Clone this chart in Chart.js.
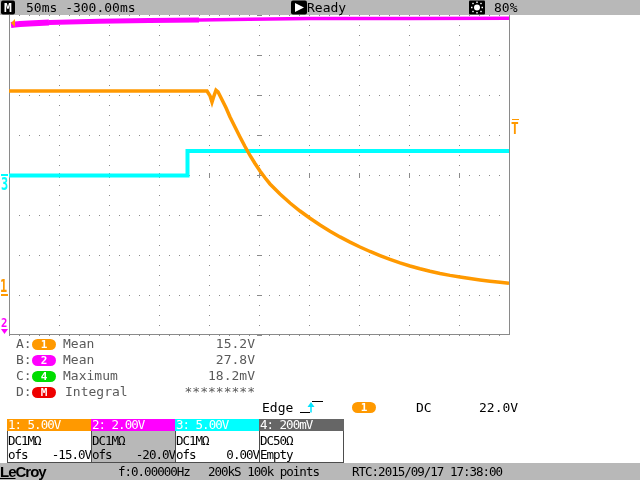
<!DOCTYPE html>
<html>
<head>
<meta charset="utf-8">
<title>LeCroy capture</title>
<script src="https://cdn.jsdelivr.net/npm/chart.js@4.4.1/dist/chart.umd.min.js"></script>
<style>
    html, body { margin: 0; padding: 0; background: #fff; }
    #scope { position: relative; width: 640px; height: 480px; overflow: hidden; }
    #scope canvas { position: absolute; left: 0; top: 0; }
    #shapes { position: absolute; left: 0; top: 0; }
    .bar { position: absolute; left: 0; width: 640px; background: #b8b8b8; }
    .t { position: absolute; font-family: "DejaVu Sans Mono", monospace; font-size: 13px; line-height: 15px; white-space: pre; color: #000; }
    .n { font-size: 12.5px; line-height: 13px; letter-spacing: -1px; }
    .meas { color: #5a5a5a; }
    .val { text-align: right; right: 385px; }
    .pill { position: absolute; width: 24px; height: 11px; border-radius: 6px; color: #fff; text-align: center;
            font-family: "DejaVu Sans Mono", monospace; font-weight: bold; font-size: 11px; line-height: 11px; }
    .mark { position: absolute; font-family: "DejaVu Sans Mono", monospace; font-weight: bold; transform-origin: left top; }
    .ch { position: absolute; top: 419px; width: 85px; height: 44px; box-sizing: border-box;
          border: 1px solid #4d4d4d; border-top: none; background: #fff; }
    .ch .hdr { position: absolute; left: -1px; right: -1px; top: 0; height: 12px; }
    .ch .t { left: 0; }
</style>
</head>
<body>
<div id="scope">
    <canvas id="scopeChart" width="640" height="480"></canvas>

    <!-- channel markers, trigger slope icon -->
    <svg id="shapes" width="640" height="480">
        <polygon points="11,23 15,19 15,27" fill="#ff9900"/>
        <rect x="1" y="174" width="7" height="2" fill="#00ffff"/>
        <rect x="1" y="294" width="7" height="2" fill="#ff9900"/>
        <polygon points="1,329 8,329 4.5,334" fill="#ff00ff"/>
        <rect x="512" y="119" width="7" height="1" fill="#ff9900"/>
        <g stroke="#000" stroke-width="1">
            <line x1="300" y1="412.5" x2="310" y2="412.5"/>
            <line x1="312" y1="401.5" x2="323" y2="401.5"/>
        </g>
        <line x1="311" y1="412.5" x2="311" y2="405" stroke="#00e5ff" stroke-width="1.5"/>
        <polygon points="307.5,407 311,402 314.5,407" fill="#00e5ff"/>
    </svg>

    <div class="bar" style="top:0;height:15px"></div>
    <div class="bar" style="top:463px;height:17px"></div>
    <svg style="position:absolute;left:0;top:0" width="640" height="16">
        <rect x="1" y="0.5" width="14" height="14" rx="2" fill="#000"/>
        <rect x="291" y="0.5" width="16" height="14" rx="2" fill="#000"/>
        <polygon points="295,3 304,7.5 295,12" fill="#fff"/>
        <rect x="469" y="0.5" width="16" height="14" rx="1" fill="#000"/>
        <circle cx="477" cy="7.5" r="3" fill="#fff"/>
        <g stroke="#fff" stroke-width="1.4">
            <line x1="477" y1="1.5" x2="477" y2="3"/><line x1="477" y1="12" x2="477" y2="13.5"/>
            <line x1="471" y1="7.5" x2="472.5" y2="7.5"/><line x1="481.5" y1="7.5" x2="483" y2="7.5"/>
            <line x1="472.5" y1="3" x2="473.5" y2="4"/><line x1="480.5" y1="11" x2="481.5" y2="12"/>
            <line x1="481.5" y1="3" x2="480.5" y2="4"/><line x1="473.5" y1="11" x2="472.5" y2="12"/>
        </g>
    </svg>

    <!-- top status line -->
    <div class="t" style="left:2px;top:0;color:#fff;font-weight:bold;width:12px;text-align:center">M</div>
    <div class="t" style="left:26px;top:0">50ms -300.00ms</div>
    <div class="t" style="left:307px;top:0">Ready</div>
    <div class="t" style="left:494px;top:0">80%</div>

    <!-- channel markers beside the grid -->
    <div class="mark" style="left:1px;top:176px;font-size:17px;line-height:17px;color:#00ffff;transform:scaleX(0.7)">3</div>
    <div class="mark" style="left:0px;top:278px;font-size:17px;line-height:17px;color:#ff9900;transform:scaleX(0.7)">1</div>
    <div class="mark" style="left:1px;top:316px;font-size:12.5px;line-height:13px;color:#ff00ff;transform:scaleX(0.85)">2</div>
    <div class="mark" style="left:511px;top:122px;font-size:15px;line-height:15px;color:#ff9900;transform:scaleX(0.85)">T</div>

    <!-- measurements -->
    <div class="t meas" style="left:16px;top:336px">A:</div>
    <div class="pill" style="left:32px;top:339px;background:#ff9900">1</div>
    <div class="t meas" style="left:63px;top:336px">Mean</div>
    <div class="t meas val" style="top:336px">15.2V</div>

    <div class="t meas" style="left:16px;top:352px">B:</div>
    <div class="pill" style="left:32px;top:355px;background:#ff00ff">2</div>
    <div class="t meas" style="left:63px;top:352px">Mean</div>
    <div class="t meas val" style="top:352px">27.8V</div>

    <div class="t meas" style="left:16px;top:368px">C:</div>
    <div class="pill" style="left:32px;top:371px;background:#00dd00">4</div>
    <div class="t meas" style="left:63px;top:368px">Maximum</div>
    <div class="t meas val" style="top:368px">18.2mV</div>

    <div class="t meas" style="left:16px;top:384px">D:</div>
    <div class="pill" style="left:32px;top:387px;background:#ee0000">M</div>
    <div class="t meas" style="left:65px;top:384px">Integral</div>
    <div class="t meas val" style="top:384px">*********</div>

    <!-- trigger line -->
    <div class="t" style="left:262px;top:399.5px">Edge</div>
    <div class="pill" style="left:352px;top:402px;background:#ff9900">1</div>
    <div class="t" style="left:416px;top:399.5px">DC</div>
    <div class="t" style="left:479px;top:399.5px">22.0V</div>

    <!-- channel boxes -->
    <div class="ch" style="left:7px">
        <div class="hdr" style="background:#ff9900"></div>
        <div class="t n" style="top:-0.7px;color:#fff">1: 5.00V</div>
        <div class="t n" style="top:14.6px">DC1MΩ</div>
        <div class="t n" style="top:29.3px">ofs</div>
        <div class="t n" style="top:29.3px;left:auto;right:0;text-align:right">-15.0V</div>
    </div>
    <div class="ch" style="left:91px;background:#b8b8b8">
        <div class="hdr" style="background:#ff00ff"></div>
        <div class="t n" style="top:-0.7px;color:#fff">2: 2.00V</div>
        <div class="t n" style="top:14.6px">DC1MΩ</div>
        <div class="t n" style="top:29.3px">ofs</div>
        <div class="t n" style="top:29.3px;left:auto;right:0;text-align:right">-20.0V</div>
    </div>
    <div class="ch" style="left:175px">
        <div class="hdr" style="background:#00ffff"></div>
        <div class="t n" style="top:-0.7px;color:#fff">3: 5.00V</div>
        <div class="t n" style="top:14.6px">DC1MΩ</div>
        <div class="t n" style="top:29.3px">ofs</div>
        <div class="t n" style="top:29.3px;left:auto;right:0;text-align:right">0.00V</div>
    </div>
    <div class="ch" style="left:259px">
        <div class="hdr" style="background:#666666"></div>
        <div class="t n" style="top:-0.7px;color:#fff">4: 200mV</div>
        <div class="t n" style="top:14.6px">DC50Ω</div>
        <div class="t n" style="top:29.3px">Empty</div>
    </div>

    <!-- bottom status line -->
    <div class="t" style="left:0;top:464px;font-family:'Liberation Sans',sans-serif;font-weight:bold;font-size:15px;letter-spacing:-1px"><span style="text-decoration:underline">Le</span>Croy</div>
    <div class="t n" style="left:118px;top:465.3px">f:0.00000Hz</div>
    <div class="t n" style="left:208px;top:465.3px">200kS 100k points</div>
    <div class="t n" style="left:352px;top:465.3px">RTC:2015/09/17 17:38:00</div>
</div>

<script>
// Time across the screen, ms from the left edge (50 ms/div, 10 div)
// Channel 1 (orange), volts
const ch1Time = [0, 198, 201, 203, 205, 207, 209, 213, 217, 221, 226, 231, 236, 241, 246, 251, 256, 261, 271, 281,
                 291, 301, 311, 321, 331, 341, 351, 361, 371, 381, 391, 401, 411, 421, 431, 441, 451, 461, 471, 481,
                 491, 500];
const ch1Volts = [25.5, 25.5, 24.9, 24.1, 24.9, 25.6, 25.4, 24.4, 23.4, 22.25, 21.0, 19.75, 18.56, 17.44, 16.44, 15.5, 14.65, 13.88, 12.63, 11.5,
                  10.5, 9.59, 8.75, 7.98, 7.26, 6.61, 6.0, 5.44, 4.93, 4.45, 4.01, 3.63, 3.28, 2.96, 2.69, 2.45, 2.24, 2.05, 1.88, 1.73,
                  1.59, 1.46];

// Channel 2 (magenta), volts
const ch2Time = [2, 6, 11, 20, 40, 60, 90, 140, 190, 240, 300, 400, 500];
const ch2Volts = [27.50, 27.52, 27.55, 27.58, 27.62, 27.65, 27.69, 27.72, 27.75, 27.79, 27.82, 27.83, 27.84];

// Channel 3 (cyan), volts
const ch3Time = [0, 178.5, 178.5, 500];
const ch3Volts = [-0.05, -0.05, 3.0, 3.0];

// Vertical ranges per channel: centre = -offset, 8 divisions
const ch1Range = [-5, 35];   // 5 V/div, ofs -15 V
const ch2Range = [12, 28];   // 2 V/div, ofs -20 V
const ch3Range = [-20, 20];  // 5 V/div, ofs 0 V

const GRID = '#8a8a8a';

function toPoints(times, values) {
    return times.map((t, i) => ({ x: t, y: values[i] }));
}

// Centre-line ticks and the solid frame of the graticule
const graticule = {
    id: 'graticule',
    beforeDatasetsDraw(chart) {
        const { ctx, chartArea: a, scales } = chart;
        const cx = Math.round(scales.x.getPixelForValue(250)) + 0.5;
        const cy = Math.round(scales.yg.getPixelForValue(0)) + 0.5;
        ctx.save();
        ctx.strokeStyle = GRID;
        ctx.lineWidth = 1;
        ctx.beginPath();
        for (let v = -4; v <= 4; v++) {
            const y = Math.round(scales.yg.getPixelForValue(v)) + 0.5;
            ctx.moveTo(cx - 2.5, y);
            ctx.lineTo(cx + 2.5, y);
        }
        for (let t = 0; t <= 500; t += 50) {
            const x = Math.round(scales.x.getPixelForValue(t)) + 0.5;
            ctx.moveTo(x, cy - 2.5);
            ctx.lineTo(x, cy + 2.5);
        }
        ctx.moveTo(a.left + 0.5, a.top);
        ctx.lineTo(a.left + 0.5, a.bottom);
        ctx.moveTo(a.right + 0.5, a.top);
        ctx.lineTo(a.right + 0.5, a.bottom);
        ctx.moveTo(a.left, a.bottom - 0.5);
        ctx.lineTo(a.right + 1, a.bottom - 0.5);
        ctx.stroke();
        ctx.restore();
    }
};

document.addEventListener('DOMContentLoaded', function() {
    const ctx = document.getElementById('scopeChart').getContext('2d');

    new Chart(ctx, {
        type: 'line',
        data: {
            datasets: [{
                label: 'C1',
                data: toPoints(ch1Time, ch1Volts),
                yAxisID: 'y1',
                borderColor: '#ff9900',
                borderWidth: 3.5,
                order: 0
            }, {
                label: 'C3',
                data: toPoints(ch3Time, ch3Volts),
                yAxisID: 'y3',
                borderColor: '#00ffff',
                borderWidth: 4,
                order: 1
            }, {
                label: 'C2',
                data: toPoints(ch2Time, ch2Volts),
                yAxisID: 'y2',
                borderColor: '#ff00ff',
                borderWidth: 4,
                segment: {
                    borderWidth: c => c.p0.parsed.x < 30 ? 6 : (c.p0.parsed.x < 150 ? 5 : 3.5)
                },
                order: 2
            }]
        },
        options: {
            responsive: false,
            animation: false,
            events: [],
            layout: { padding: { left: 9, top: 15, right: 131, bottom: 145 } },
            elements: {
                point: { radius: 0 },
                line: { tension: 0, borderCapStyle: 'butt' }
            },
            plugins: {
                legend: { display: false },
                tooltip: { enabled: false }
            },
            scales: {
                x: {
                    type: 'linear',
                    min: 0,
                    max: 500,
                    ticks: { display: false, stepSize: 50 },
                    grid: { color: GRID, lineWidth: 1, drawTicks: false },
                    border: { display: false, dash: [1, 9] }
                },
                yg: {
                    type: 'linear',
                    position: 'left',
                    min: -4,
                    max: 4,
                    ticks: { display: false, stepSize: 1 },
                    grid: { color: GRID, lineWidth: 1, drawTicks: false },
                    border: { display: false, dash: [1, 9] }
                },
                y1: { display: false, min: ch1Range[0], max: ch1Range[1] },
                y2: { display: false, min: ch2Range[0], max: ch2Range[1] },
                y3: { display: false, min: ch3Range[0], max: ch3Range[1] }
            }
        },
        plugins: [graticule]
    });
});
</script>
</body>
</html>
